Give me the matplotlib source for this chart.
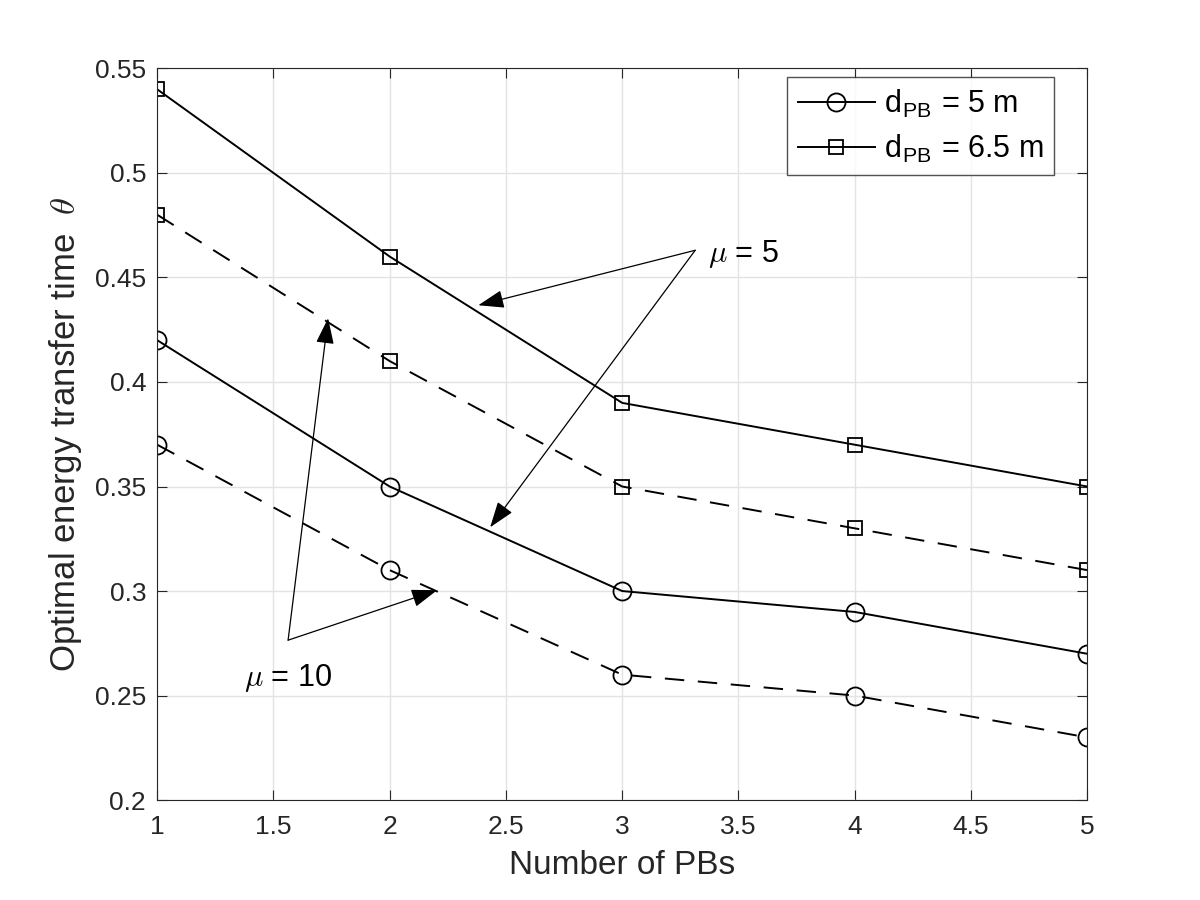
import numpy as np
import matplotlib
matplotlib.use("Agg")
from matplotlib import pyplot as plt

plt.rcParams['font.family'] = ['Liberation Sans', 'DejaVu Sans']
plt.rcParams['mathtext.fontset'] = 'cm'

# data
num_pb = [1, 2, 3, 4, 5]
d5_mu5 = [0.42, 0.35, 0.30, 0.29, 0.27]
d5_mu10 = [0.37, 0.31, 0.26, 0.25, 0.23]
d65_mu5 = [0.54, 0.46, 0.39, 0.37, 0.35]
d65_mu10 = [0.48, 0.41, 0.35, 0.33, 0.31]

fig = plt.figure(figsize=(12, 9), dpi=100)
ax = fig.add_axes([0.131, 0.111, 0.775, 0.813])

circ = dict(color='k', lw=1.4, marker='o', markersize=13,
            markerfacecolor='none', markeredgewidth=1.3)
sq = dict(color='k', lw=1.4, marker='s', markersize=9.5,
          markerfacecolor='none', markeredgewidth=1.3)
dash = (0, (10, 7))

l1, = ax.plot(num_pb, d5_mu5, '-', label=r'd$_{\mathregular{PB}}$ = 5 m', **circ)
ax.plot(num_pb, d5_mu10, linestyle=dash, **circ)
l2, = ax.plot(num_pb, d65_mu5, '-', label=r'd$_{\mathregular{PB}}$ = 6.5 m', **sq)
ax.plot(num_pb, d65_mu10, linestyle=dash, **sq)

ax.set_xlim(1, 5)
ax.set_ylim(0.2, 0.55)
ax.set_xticks(np.arange(1, 5.01, 0.5))
ax.set_xticklabels(['1', '1.5', '2', '2.5', '3', '3.5', '4', '4.5', '5'])
ax.set_yticks(np.arange(0.2, 0.551, 0.05))
ax.set_yticklabels(['0.2', '0.25', '0.3', '0.35', '0.4', '0.45', '0.5', '0.55'])
ax.grid(True, color='#e3e3e3', lw=1)
ax.set_axisbelow(True)
ax.tick_params(direction='in', length=7.5, labelsize=19, colors='#262626',
               top=True, right=True)
ax.tick_params(axis='x', pad=11)
ax.tick_params(axis='y', pad=8)
for s in ax.spines.values():
    s.set_color('#262626')

ax.set_xlabel('Number of PBs', fontsize=24, color='#262626', labelpad=8)
ax.set_ylabel(r'Optimal energy transfer time  $\theta$', fontsize=25,
              color='#262626', labelpad=8)

leg = ax.legend(handles=[l1, l2], loc='upper right', fontsize=22, frameon=True,
                fancybox=False, edgecolor='#262626', handlelength=2.5,
                handletextpad=0.3, borderpad=0.35, labelspacing=0.4,
                borderaxespad=0, bbox_to_anchor=(0.9645, 0.9877))
leg.get_frame().set_linewidth(1.0)

arr = dict(arrowstyle='-|>,head_length=0.8,head_width=0.28', color='k',
           lw=0.9, mutation_scale=20, shrinkA=0, shrinkB=0)
ax.annotate('', xy=(2.381, 0.4367), xytext=(3.314, 0.463), arrowprops=arr)
ax.annotate('', xy=(2.432, 0.3305), xytext=(3.314, 0.463), arrowprops=arr)
ax.text(3.37, 0.461, r'$\mu$ = 5', fontsize=22, va='center', ha='left')

ax.annotate('', xy=(1.735, 0.4305), xytext=(1.563, 0.2765), arrowprops=arr)
ax.annotate('', xy=(2.204, 0.3004), xytext=(1.563, 0.2765), arrowprops=arr)
ax.text(1.375, 0.2585, r'$\mu$ = 10', fontsize=22, va='center', ha='left')

plt.savefig('out.png', dpi=100)
plt.close()
